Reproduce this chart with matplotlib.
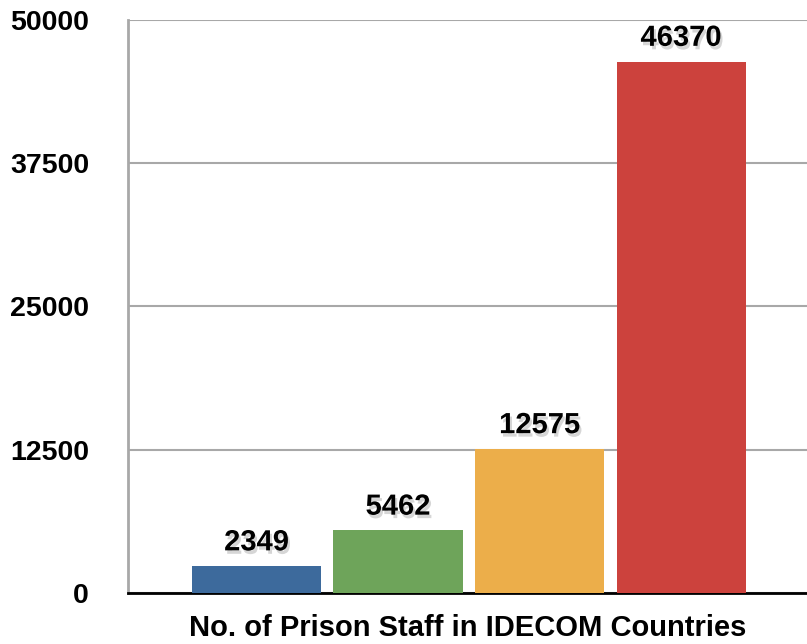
import matplotlib.pyplot as plt
import matplotlib.patheffects as pe

plt.rcParams['font.family'] = ['Liberation Sans', 'DejaVu Sans']

# data
categories = ['A', 'B', 'C', 'D']
values = [2349, 5462, 12575, 46370]
colors = ['#3d6a9c', '#6ea45a', '#ecae4a', '#cc423d']
yticks = [0, 12500, 25000, 37500, 50000]
xlabel = 'No. of Prison Staff in IDECOM Countries'

fig = plt.figure(figsize=(8.07, 6.44), dpi=100)
ax = fig.add_axes([0.1586, 0.0792, 0.8414, 0.8898])

x = list(range(len(values)))
bars = ax.bar(x, values, width=0.912, color=colors, zorder=3)

shadow = [pe.SimplePatchShadow(offset=(1.5, -2.5), shadow_rgbFace='#999999', alpha=0.4),
          pe.Normal()]
for xi, v in zip(x, values):
    ax.annotate(str(v), (xi, v), xytext=(0, 7), textcoords='offset points',
                ha='center', va='bottom', fontsize=21, fontweight='bold',
                color='black', path_effects=shadow, zorder=5)

ax.set_xlim(-0.908, 3.89)
ax.set_ylim(0, 50000)
ax.set_yticks(yticks)
ax.set_yticklabels([str(t) for t in yticks], fontsize=20.5, fontweight='bold')
ax.tick_params(axis='y', length=0, pad=28)
ax.set_xticks([])
ax.yaxis.grid(True, color='#a8a8a8', linewidth=1.5, zorder=0)
ax.set_axisbelow(True)

for s in ['top', 'right']:
    ax.spines[s].set_visible(False)
ax.spines['left'].set_color('#a8a8a8')
ax.spines['left'].set_linewidth(2)
ax.spines['bottom'].set_color('black')
ax.spines['bottom'].set_linewidth(2)

ax.set_xlabel(xlabel, fontsize=21, fontweight='bold', labelpad=15)

fig.savefig('out.png', dpi=100)
